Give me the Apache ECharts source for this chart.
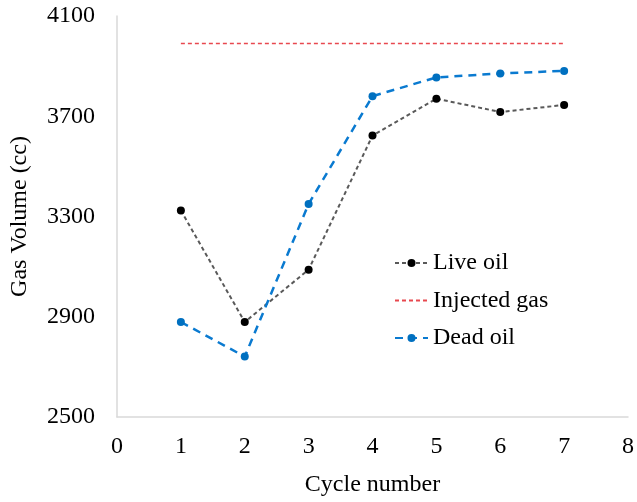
<!DOCTYPE html>
<html>
<head>
<meta charset="utf-8">
<script src="https://cdn.jsdelivr.net/npm/echarts@6/dist/echarts.min.js"></script>
<style>html,body{margin:0;padding:0;background:#fff}#c{width:637px;height:502px}</style>
</head>
<body>
<div id="c"></div>
<script>
const cycles = [1, 2, 3, 4, 5, 6, 7];
const liveOil = [3324, 2879, 3088, 3623, 3770, 3717, 3745];
const injectedGas = [3990, 3990, 3990, 3990, 3990, 3990, 3990];
const deadOil = [2879, 2741, 3350, 3780, 3855, 3871, 3881];
const yTicks = [2500, 2900, 3300, 3700, 4100];

const pair = (xs, ys) => xs.map((x, i) => [x, ys[i]]);
const font = 'Liberation Serif';
const chart = echarts.init(document.getElementById('c'), null, {renderer: 'canvas'});
chart.setOption({
  animation: false,
  backgroundColor: '#fff',
  textStyle: {fontFamily: font},
  grid: {left: 117, right: 8, top: 16, bottom: 79, containLabel: false},
  xAxis: {
    type: 'value', min: 0, max: 8, interval: 1,
    name: 'Cycle number', nameLocation: 'middle', nameGap: 56,
    nameTextStyle: {fontFamily: font, fontSize: 24, color: '#000'},
    axisLine: {show: true, lineStyle: {color: '#D9D9D9', width: 1.5}},
    axisTick: {show: false},
    splitLine: {show: false},
    axisLabel: {fontFamily: font, fontSize: 24, color: '#000', margin: 18}
  },
  yAxis: {
    type: 'value', min: yTicks[0], max: yTicks[yTicks.length - 1], interval: 400,
    name: 'Gas Volume (cc)', nameLocation: 'middle', nameGap: 85,
    nameTextStyle: {fontFamily: font, fontSize: 24, color: '#000'},
    axisLine: {show: true, lineStyle: {color: '#D9D9D9', width: 1.5}},
    axisTick: {show: false},
    splitLine: {show: false},
    axisLabel: {fontFamily: font, fontSize: 24, color: '#000', margin: 22,
      formatter: v => String(v)}
  },
  legend: {
    orient: 'vertical', left: 394, top: 251, padding: 0,
    itemWidth: 33, itemHeight: 10, itemGap: 13.5,
    textStyle: {fontFamily: font, fontSize: 24, color: '#000'},
    data: [
      {name: 'Live oil'},
      {name: 'Injected gas', itemStyle: {opacity: 0}},
      {name: 'Dead oil'}
    ]
  },
  series: [
    {
      name: 'Live oil', type: 'line', data: pair(cycles, liveOil),
      symbol: 'circle', symbolSize: 8,
      itemStyle: {color: '#000'},
      lineStyle: {color: '#595959', width: 2, type: [4, 3]}
    },
    {
      name: 'Injected gas', type: 'line', data: pair(cycles, injectedGas),
      symbol: 'none',
      itemStyle: {color: '#E8484F'},
      lineStyle: {color: '#E8484F', width: 1.5, type: [4, 3]}
    },
    {
      name: 'Dead oil', type: 'line', data: pair(cycles, deadOil),
      symbol: 'circle', symbolSize: 8,
      itemStyle: {color: '#0070C0'},
      lineStyle: {color: '#0A7AD0', width: 2.5, type: [8, 6]}
    }
  ]
});
</script>
</body>
</html>
